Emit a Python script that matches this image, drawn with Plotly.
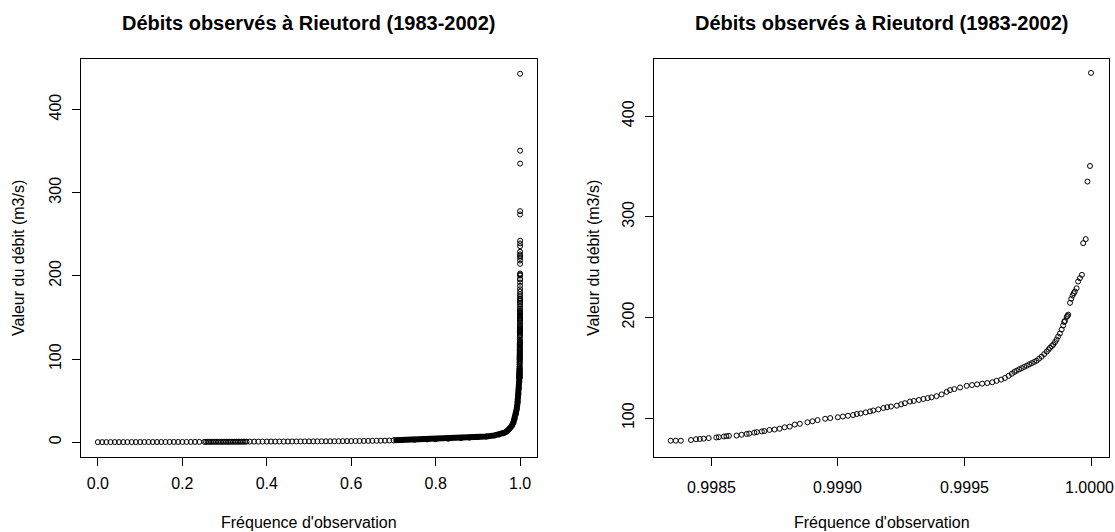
import plotly.graph_objects as go

TITLE = "Débits observés à Rieutord (1983-2002)"
XLABEL = "Fréquence d'observation"
YLABEL = "Valeur du débit (m3/s)"

# Low flows (left panel, chain of markers)
low_freq = [0.00, 0.01, 0.02, 0.03, 0.04, 0.05, 0.06, 0.07, 0.08, 0.09, 0.10, 0.11, 0.12,
            0.13, 0.14, 0.15, 0.16, 0.17, 0.18, 0.19, 0.20, 0.21, 0.22, 0.23, 0.24,
            0.252, 0.256, 0.260, 0.264, 0.268, 0.272, 0.276, 0.280, 0.284, 0.288, 0.292,
            0.296, 0.300, 0.304, 0.308, 0.312, 0.316, 0.320, 0.324, 0.328, 0.332, 0.336,
            0.340, 0.344, 0.348, 0.352,
            0.36, 0.37, 0.38, 0.39, 0.40, 0.41, 0.42, 0.43, 0.44, 0.45, 0.46, 0.47, 0.48,
            0.49, 0.50, 0.51, 0.52, 0.53, 0.54, 0.55, 0.56, 0.57, 0.58, 0.59, 0.60, 0.61,
            0.62, 0.63, 0.64, 0.65, 0.66, 0.67, 0.68, 0.69]
low_q = [0.20, 0.20, 0.20, 0.21, 0.22, 0.23, 0.24, 0.25, 0.26, 0.27, 0.28, 0.29, 0.30,
         0.31, 0.32, 0.33, 0.34, 0.35, 0.36, 0.37, 0.38, 0.40, 0.42, 0.44, 0.47,
         0.50, 0.50, 0.52, 0.52, 0.54, 0.54, 0.55, 0.56, 0.57, 0.58, 0.58,
         0.60, 0.60, 0.61, 0.62, 0.63, 0.64, 0.65, 0.66, 0.67, 0.68, 0.69,
         0.70, 0.71, 0.72, 0.74,
         0.76, 0.78, 0.80, 0.82, 0.84, 0.86, 0.88, 0.90, 0.92, 0.95, 0.98, 1.00, 1.02,
         1.05, 1.08, 1.10, 1.12, 1.15, 1.18, 1.20, 1.25, 1.30, 1.35, 1.40, 1.45, 1.50,
         1.55, 1.60, 1.66, 1.72, 1.80, 1.90, 2.00, 2.10]

# Medium flows (left panel, dense part of the curve)
mid_freq = [0.700, 0.720, 0.750, 0.780, 0.800, 0.830, 0.860, 0.880, 0.900, 0.920, 0.940,
            0.950, 0.960, 0.965, 0.970, 0.975, 0.980, 0.984, 0.987, 0.990, 0.992, 0.994,
            0.996, 0.997, 0.998, 0.99834]
mid_q = [2.3, 2.6, 3.0, 3.4, 3.7, 4.2, 4.9, 5.5, 6.2, 7.0, 8.3,
         9.3, 10.8, 12.0, 13.8, 16.3, 19.5, 23.5, 28.0, 34.0, 40.0, 48.0,
         58.0, 65.0, 73.0, 77.5]

# Highest flows (right panel, and top of left panel)
tail_freq = [0.998340, 0.998360, 0.998380, 0.998420, 0.998440, 0.998455, 0.998470, 0.998490,
             0.998520, 0.998530, 0.998550, 0.998560, 0.998570, 0.998600, 0.998620, 0.998640,
             0.998650, 0.998670, 0.998680, 0.998700, 0.998710, 0.998730, 0.998750, 0.998770,
             0.998790, 0.998810, 0.998830, 0.998850, 0.998880, 0.998900, 0.998920, 0.998950,
             0.998970, 0.999000, 0.999020, 0.999040, 0.999060, 0.999075, 0.999090, 0.999110,
             0.999127, 0.999140, 0.999160, 0.999180, 0.999195, 0.999210, 0.999233, 0.999250,
             0.999265, 0.999285, 0.999300, 0.999320, 0.999338, 0.999355, 0.999370, 0.999390,
             0.999410, 0.999430, 0.999443, 0.999460, 0.999483, 0.999509, 0.999530, 0.999550,
             0.999570, 0.999590, 0.999610, 0.999627, 0.999645, 0.999660, 0.999675, 0.999687,
             0.999697, 0.999706, 0.999716, 0.999726, 0.999736, 0.999746, 0.999756, 0.999766,
             0.999776, 0.999785, 0.999795, 0.999805, 0.999815, 0.999825, 0.999832, 0.999838,
             0.999845, 0.999851, 0.999858, 0.999864, 0.999870, 0.999877, 0.999884, 0.999890,
             0.999894, 0.999897, 0.999904, 0.999907, 0.999910, 0.999917, 0.999922, 0.999927,
             0.999932, 0.999936, 0.999943, 0.999949, 0.999956, 0.999964, 0.999969, 0.999979,
             0.999986, 0.999996, 1.000000]
tail_q = [77.5, 77.5, 77.5, 78.2, 79.0, 79.2, 79.5, 80.1,
          80.7, 81.0, 81.7, 82.0, 82.3, 82.6, 83.4, 84.2,
          84.6, 85.5, 86.0, 86.7, 87.1, 88.2, 88.6, 89.4,
          90.8, 91.5, 93.5, 94.3, 95.8, 96.8, 98.0, 99.3,
          100.0, 100.8, 101.5, 102.3, 103.0, 104.0, 104.6, 105.6,
          106.6, 107.5, 108.6, 110.0, 110.8, 111.4, 112.3, 113.6,
          114.8, 116.4, 117.0, 118.0, 119.0, 119.8, 120.6, 121.8,
          123.5, 126.0, 127.8, 128.8, 130.4, 132.0, 132.8, 133.5,
          134.2, 134.8, 135.6, 137.0, 138.2, 139.8, 142.0, 144.0,
          145.8, 147.0, 148.4, 149.6, 150.8, 152.0, 153.4, 154.6,
          155.8, 157.0, 159.0, 161.0, 163.5, 166.0, 168.0, 169.8,
          171.5, 173.0, 175.5, 178.0, 181.0, 184.0, 188.0, 192.0,
          195.5, 196.5, 200.5, 201.5, 202.8, 214.5, 218.5, 221.8,
          224.0, 225.8, 229.0, 235.7, 239.0, 242.3, 273.8, 277.8,
          335.0, 350.5, 443.0]

left_xticks = [0.0, 0.2, 0.4, 0.6, 0.8, 1.0]
left_yticks = [0, 100, 200, 300, 400]
right_xticks = [0.9985, 0.9990, 0.9995, 1.0000]
right_xlabels = ["0.9985", "0.9990", "0.9995", "1.0000"]
right_yticks = [100, 200, 300, 400]

assert len(low_freq) == len(low_q)
assert len(mid_freq) == len(mid_q)
assert len(tail_freq) == len(tail_q)

FONT = "Liberation Sans, Arial, sans-serif"
# the page margin is removed (post_script below), so the figure fills the window
W, H = 1115, 532

# plot boxes in window pixels
L1, R1 = 81, 537
L2, R2 = 654, 1109
TOP, BOT = 59, 457
XTICK_Y = 487   # centre line of x tick labels

mk = dict(symbol="circle-open", size=5, color="black", line=dict(width=1, color="black"))

fig = go.Figure()
fig.add_trace(go.Scatter(x=low_freq, y=low_q, mode="markers", marker=mk,
                         xaxis="x", yaxis="y", hoverinfo="x+y"))
fig.add_trace(go.Scatter(x=mid_freq, y=mid_q, mode="lines+markers", marker=mk,
                         line=dict(color="black", width=6),
                         xaxis="x", yaxis="y", hoverinfo="x+y"))
fig.add_trace(go.Scatter(x=tail_freq, y=tail_q, mode="markers", marker=mk,
                         xaxis="x", yaxis="y", hoverinfo="x+y"))
fig.add_trace(go.Scatter(x=tail_freq, y=tail_q, mode="markers", marker=mk,
                         xaxis="x2", yaxis="y2", hoverinfo="x+y"))

def ax(**kw):
    d = dict(showline=True, mirror=True, linecolor="black", linewidth=1,
             ticks="outside", ticklen=8, tickwidth=1, tickcolor="black",
             showgrid=False, zeroline=False,
             tickfont=dict(family=FONT, size=16, color="black"))
    d.update(kw)
    return d

ydom = [1 - BOT / H, 1 - TOP / H]
fig.update_layout(
    width=W, height=H,
    margin=dict(l=0, r=0, t=0, b=0),
    paper_bgcolor="white", plot_bgcolor="white",
    showlegend=False,
    xaxis=ax(domain=[L1 / W, R1 / W], range=[-0.04, 1.04], tickvals=left_xticks,
             tickformat=".1f", anchor="y", ticklabelstandoff=4),
    yaxis=ax(domain=ydom, range=[-17.7, 460.7], tickvals=left_yticks,
             tickangle=-90, anchor="x", ticklabelstandoff=5),
    xaxis2=ax(domain=[L2 / W, R2 / W], range=[0.998274, 1.000071], tickvals=right_xticks,
              showticklabels=False, anchor="y2"),
    yaxis2=ax(domain=ydom, range=[61.3, 456.8], tickvals=right_yticks,
              tickangle=-90, anchor="x2", ticklabelstandoff=5),
)

annots = []
for (l, r, ylab_x) in [(L1, R1, 18), (L2, R2, 593)]:
    cx = (l + r) / 2 / W
    annots.append(dict(text="<b>" + TITLE + "</b>", x=cx, y=1 - 23 / H,
                       xref="paper", yref="paper",
                       xanchor="center", yanchor="middle", showarrow=False,
                       font=dict(family=FONT, size=20, color="black")))
    annots.append(dict(text=XLABEL, x=cx, y=1 - 522 / H, xref="paper", yref="paper",
                       xanchor="center", yanchor="middle", showarrow=False,
                       font=dict(family=FONT, size=16, color="black")))
    annots.append(dict(text=YLABEL, x=ylab_x / W, y=1 - ((TOP + BOT) / 2) / H,
                       xref="paper", yref="paper", textangle=-90,
                       xanchor="center", yanchor="middle", showarrow=False,
                       font=dict(family=FONT, size=16, color="black")))

# right-panel x tick labels (the last one nudged so it stays inside the page)
for v, t in zip(right_xticks, right_xlabels):
    last = (v == right_xticks[-1])
    annots.append(dict(text=t, x=v, xref="x2", y=1 - XTICK_Y / H, yref="paper",
                       xanchor="center", yanchor="middle", showarrow=False,
                       xshift=-2 if last else 0, borderpad=0,
                       font=dict(family=FONT, size=16, color="black")))
fig.update_layout(annotations=annots)

fig.write_html(
    "out.html",
    config={"displayModeBar": False},
    post_script="document.body.style.margin='0';"
                "document.documentElement.style.overflow='hidden';"
                "document.body.style.overflow='hidden';",
)
